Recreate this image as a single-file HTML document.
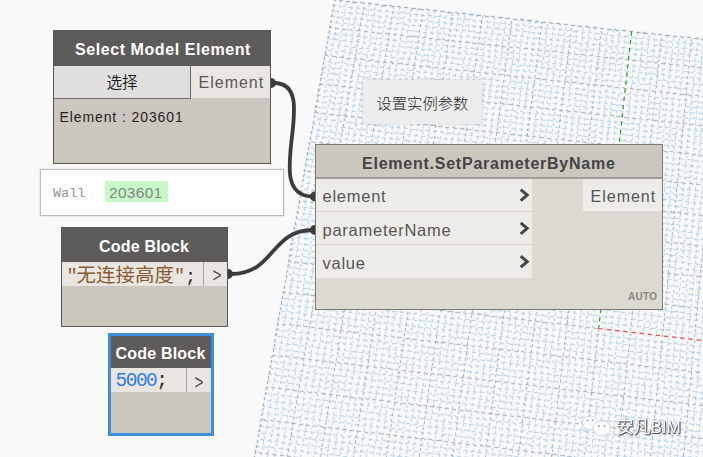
<!DOCTYPE html>
<html lang="zh">
<head>
<meta charset="utf-8">
<title>Dynamo - Element.SetParameterByName</title>
<style>
html,body{margin:0;padding:0;}
html{background:#f9f9f9;}
body{width:703px;height:457px;overflow:hidden;background:#f9f9f9;position:relative;
  font-family:"Liberation Sans","Noto Sans CJK SC",sans-serif;color:#2b2b2b;}
.abs{position:absolute;box-sizing:border-box;}
svg.grid,svg.wires{position:absolute;left:0;top:0;}
.t{position:absolute;white-space:nowrap;line-height:1;}

/* generic dark-header node */
.node{position:absolute;box-sizing:border-box;background:#cbc6be;border:1px solid #595755;}
.hdr{position:absolute;left:0;top:0;right:0;background:#5e5c5a;}
.hdr .t{color:#fff;font-weight:bold;font-size:16px;}
.port{position:absolute;background:#e9e6e1;}
.code{font-family:"Liberation Mono","Noto Sans CJK SC",monospace;}
</style>
</head>
<body>
<svg class="grid" width="703" height="457" viewBox="0 0 703 457" fill="none" stroke-width="1" shape-rendering="crispEdges">
<defs><filter id="soft" x="0" y="0" width="100%" height="100%" color-interpolation-filters="sRGB"><feConvolveMatrix order="3" kernelMatrix="0.02 0.1 0.02 0.1 0.52 0.1 0.02 0.1 0.02" divisor="1" edgeMode="none" preserveAlpha="false"/></filter></defs>
<g filter="url(#soft)">
<g stroke="#afcce2" stroke-dasharray="3.1 2.3"><path d="M340.6 0.7L259.7 464.9" stroke-dashoffset="0.8"/>
<path d="M346.5 1.3L266.5 464.1" stroke-dashoffset="3.5"/>
<path d="M352.4 1.9L272.9 464.9" stroke-dashoffset="0.4"/>
<path d="M358.3 2.6L279.7 464.1" stroke-dashoffset="2.9"/>
<path d="M370.1 3.8L292.9 464.1" stroke-dashoffset="0.3"/>
<path d="M376.0 4.4L299.3 464.9" stroke-dashoffset="2.7"/>
<path d="M381.9 5.1L306.1 464.1" stroke-dashoffset="0.2"/>
<path d="M387.8 5.7L312.5 464.9" stroke-dashoffset="2.3"/>
<path d="M399.6 7.0L325.7 464.9" stroke-dashoffset="0.5"/>
<path d="M405.5 7.6L332.5 464.1" stroke-dashoffset="2.3"/>
<path d="M411.4 8.2L338.9 464.9" stroke-dashoffset="4.5"/>
<path d="M417.3 8.8L345.7 464.1" stroke-dashoffset="0.7"/>
<path d="M429.2 10.1L358.9 464.1" stroke-dashoffset="3.4"/>
<path d="M435.1 10.7L365.4 464.8" stroke-dashoffset="5.1"/>
<path d="M441.0 11.4L372.1 464.1" stroke-dashoffset="3.1"/>
<path d="M446.9 12.0L378.6 464.8" stroke-dashoffset="2.1"/>
<path d="M458.8 13.2L391.8 464.8" stroke-dashoffset="0.3"/>
<path d="M464.7 13.9L398.5 464.0" stroke-dashoffset="4.6"/>
<path d="M470.6 14.5L405.0 464.8" stroke-dashoffset="1.6"/>
<path d="M476.6 15.1L411.7 464.0" stroke-dashoffset="0.8"/>
<path d="M488.5 16.4L424.9 464.0" stroke-dashoffset="1.7"/>
<path d="M494.4 17.0L431.4 464.8" stroke-dashoffset="4.4"/>
<path d="M500.3 17.7L438.2 464.0" stroke-dashoffset="1.0"/>
<path d="M506.3 18.3L444.7 464.8" stroke-dashoffset="3.1"/>
<path d="M518.2 19.6L457.9 464.8" stroke-dashoffset="2.0"/>
<path d="M524.1 20.2L464.6 464.0" stroke-dashoffset="3.0"/>
<path d="M530.1 20.8L471.1 464.8" stroke-dashoffset="0.3"/>
<path d="M536.1 21.5L477.8 464.0" stroke-dashoffset="0.3"/>
<path d="M548.0 22.7L491.0 463.9" stroke-dashoffset="3.7"/>
<path d="M553.9 23.4L497.6 464.7" stroke-dashoffset="2.3"/>
<path d="M559.9 24.0L504.3 463.9" stroke-dashoffset="1.7"/>
<path d="M565.9 24.6L510.8 464.7" stroke-dashoffset="3.2"/>
<path d="M577.8 25.9L524.0 464.7" stroke-dashoffset="1.6"/>
<path d="M583.8 26.5L530.7 463.9" stroke-dashoffset="4.3"/>
<path d="M589.8 27.2L537.3 464.7" stroke-dashoffset="3.8"/>
<path d="M595.7 27.8L544.0 463.9" stroke-dashoffset="1.3"/>
<path d="M607.7 29.1L557.2 463.8" stroke-dashoffset="2.8"/>
<path d="M613.7 29.7L563.7 464.6" stroke-dashoffset="4.7"/>
<path d="M619.7 30.4L570.5 463.8" stroke-dashoffset="3.9"/>
<path d="M625.7 31.0L577.0 464.6" stroke-dashoffset="1.6"/>
<path d="M637.6 32.3L590.2 464.6" stroke-dashoffset="0.6"/>
<path d="M643.6 32.9L596.9 463.8" stroke-dashoffset="2.3"/>
<path d="M649.6 33.6L603.5 464.6" stroke-dashoffset="4.1"/>
<path d="M655.6 34.2L610.2 463.8" stroke-dashoffset="0.8"/>
<path d="M667.6 35.5L623.4 463.7" stroke-dashoffset="0.2"/>
<path d="M673.6 36.1L630.0 464.5" stroke-dashoffset="3.6"/>
<path d="M679.6 36.7L636.7 463.7" stroke-dashoffset="4.1"/>
<path d="M685.7 37.4L643.2 464.5" stroke-dashoffset="3.1"/>
<path d="M697.7 38.7L656.5 464.5" stroke-dashoffset="1.7"/>
<path d="M703.7 39.3L663.2 463.6" stroke-dashoffset="3.8"/>
<path d="M709.7 39.9L669.8 464.4" stroke-dashoffset="3.2"/>
<path d="M711.0 91.7L676.5 463.6" stroke-dashoffset="3.1"/>
<path d="M710.9 228.8L689.7 463.6" stroke-dashoffset="4.5"/>
<path d="M710.9 299.8L696.3 464.4" stroke-dashoffset="5.1"/>
<path d="M711.0 372.4L703.0 463.6" stroke-dashoffset="2.6"/></g>
<g stroke="#afcce2" stroke-dasharray="4.4 2.9"><path d="M256.5 445.9L416.0 465.0" stroke-dashoffset="0.4"/>
<path d="M257.6 439.3L471.1 464.8" stroke-dashoffset="5.1"/>
<path d="M258.8 432.7L527.8 464.9" stroke-dashoffset="4.7"/>
<path d="M259.9 426.1L584.3 464.8" stroke-dashoffset="7.2"/>
<path d="M262.2 413.1L698.5 465.0" stroke-dashoffset="2.1"/>
<path d="M263.4 406.6L710.5 459.6" stroke-dashoffset="2.8"/>
<path d="M264.5 400.1L709.4 452.8" stroke-dashoffset="4.9"/>
<path d="M265.7 393.6L710.0 446.2" stroke-dashoffset="0.2"/>
<path d="M267.9 380.7L709.5 432.8" stroke-dashoffset="1.2"/>
<path d="M269.0 374.3L710.1 426.2" stroke-dashoffset="0.9"/>
<path d="M270.2 367.9L710.7 419.6" stroke-dashoffset="0.4"/>
<path d="M271.3 361.5L709.6 412.9" stroke-dashoffset="5.6"/>
<path d="M273.5 348.7L710.7 399.9" stroke-dashoffset="1.8"/>
<path d="M274.6 342.4L709.7 393.2" stroke-dashoffset="2.9"/>
<path d="M275.7 336.1L710.3 386.7" stroke-dashoffset="6.4"/>
<path d="M276.9 329.8L710.8 380.3" stroke-dashoffset="0.6"/>
<path d="M279.1 317.2L710.3 367.2" stroke-dashoffset="4.0"/>
<path d="M280.2 310.9L710.9 360.8" stroke-dashoffset="6.4"/>
<path d="M281.3 304.7L709.9 354.2" stroke-dashoffset="6.0"/>
<path d="M282.4 298.4L710.4 347.8" stroke-dashoffset="6.3"/>
<path d="M284.5 286.0L709.9 335.0" stroke-dashoffset="3.0"/>
<path d="M285.6 279.8L710.5 328.6" stroke-dashoffset="2.6"/>
<path d="M286.7 273.7L709.5 322.1" stroke-dashoffset="6.5"/>
<path d="M287.8 267.5L710.0 315.8" stroke-dashoffset="7.0"/>
<path d="M289.9 255.2L709.5 303.1" stroke-dashoffset="1.3"/>
<path d="M291.0 249.1L710.1 296.9" stroke-dashoffset="1.7"/>
<path d="M292.1 243.0L710.6 290.6" stroke-dashoffset="1.7"/>
<path d="M293.1 236.9L709.6 284.2" stroke-dashoffset="3.5"/>
<path d="M295.3 224.8L710.7 271.9" stroke-dashoffset="1.9"/>
<path d="M296.3 218.8L709.7 265.5" stroke-dashoffset="0.0"/>
<path d="M297.4 212.8L710.2 259.4" stroke-dashoffset="3.1"/>
<path d="M298.4 206.8L710.8 253.2" stroke-dashoffset="2.7"/>
<path d="M300.5 194.8L710.3 240.8" stroke-dashoffset="7.0"/>
<path d="M301.6 188.9L710.9 234.7" stroke-dashoffset="5.0"/>
<path d="M302.6 182.9L709.8 228.5" stroke-dashoffset="3.8"/>
<path d="M303.7 177.0L710.4 222.4" stroke-dashoffset="4.5"/>
<path d="M305.7 165.2L709.9 210.2" stroke-dashoffset="0.4"/>
<path d="M306.8 159.3L710.5 204.2" stroke-dashoffset="6.6"/>
<path d="M307.8 153.4L709.5 198.0" stroke-dashoffset="5.7"/>
<path d="M308.8 147.5L710.0 192.0" stroke-dashoffset="6.4"/>
<path d="M310.9 135.9L709.5 179.9" stroke-dashoffset="2.9"/>
<path d="M311.9 130.0L710.1 174.0" stroke-dashoffset="2.9"/>
<path d="M312.9 124.2L710.6 168.0" stroke-dashoffset="0.8"/>
<path d="M313.9 118.5L709.6 162.0" stroke-dashoffset="4.6"/>
<path d="M316.0 106.9L710.7 150.2" stroke-dashoffset="0.5"/>
<path d="M317.0 101.2L709.7 144.2" stroke-dashoffset="1.5"/>
<path d="M318.0 95.4L710.2 138.3" stroke-dashoffset="1.2"/>
<path d="M319.0 89.7L710.8 132.5" stroke-dashoffset="2.5"/>
<path d="M321.0 78.3L710.3 120.7" stroke-dashoffset="0.0"/>
<path d="M322.0 72.6L710.8 114.9" stroke-dashoffset="1.1"/>
<path d="M323.0 67.0L709.8 108.9" stroke-dashoffset="0.7"/>
<path d="M323.9 61.3L710.4 103.2" stroke-dashoffset="2.7"/>
<path d="M325.9 50.1L709.9 91.5" stroke-dashoffset="6.4"/>
<path d="M326.9 44.5L710.4 85.8" stroke-dashoffset="4.5"/>
<path d="M327.9 38.9L711.0 80.1" stroke-dashoffset="1.1"/>
<path d="M328.9 33.3L710.0 74.2" stroke-dashoffset="1.8"/>
<path d="M330.8 22.1L709.5 62.7" stroke-dashoffset="2.7"/>
<path d="M331.8 16.6L710.1 57.0" stroke-dashoffset="0.9"/>
<path d="M332.8 11.1L710.6 51.4" stroke-dashoffset="6.2"/>
<path d="M333.7 5.6L709.6 45.6" stroke-dashoffset="7.2"/></g>
<g stroke="#9aa7b0" stroke-dasharray="3.1 2.3"><path d="M364.2 3.2L286.1 464.9" stroke-dashoffset="2.0"/>
<path d="M393.7 6.3L319.3 464.1" stroke-dashoffset="0.4"/>
<path d="M423.2 9.5L352.1 464.9" stroke-dashoffset="1.2"/>
<path d="M452.9 12.6L385.3 464.1" stroke-dashoffset="5.3"/>
<path d="M482.5 15.8L418.2 464.8" stroke-dashoffset="0.6"/>
<path d="M512.2 18.9L451.4 464.0" stroke-dashoffset="3.5"/>
<path d="M542.0 22.1L484.3 464.7" stroke-dashoffset="1.1"/>
<path d="M571.8 25.3L517.5 463.9" stroke-dashoffset="2.4"/>
<path d="M601.7 28.5L550.5 464.6" stroke-dashoffset="3.1"/>
<path d="M598.7 328.5L583.6 464.5" stroke-dashoffset="5.3"/>
<path d="M661.6 34.8L616.7 464.5" stroke-dashoffset="2.6"/>
<path d="M691.7 38.0L650.0 463.7" stroke-dashoffset="4.7"/>
<path d="M710.9 159.4L683.0 464.4" stroke-dashoffset="2.5"/></g>
<g stroke="#9aa7b0" stroke-dasharray="4.4 2.9"><path d="M255.3 452.5L359.1 464.9" stroke-dashoffset="4.8"/>
<path d="M261.1 419.6L640.6 464.8" stroke-dashoffset="6.0"/>
<path d="M266.8 387.1L710.6 439.6" stroke-dashoffset="3.4"/>
<path d="M272.4 355.1L710.2 406.4" stroke-dashoffset="0.9"/>
<path d="M278.0 323.5L709.8 373.6" stroke-dashoffset="3.3"/>
<path d="M283.4 292.2L598.7 328.5" stroke-dashoffset="2.0"/>
<path d="M288.9 261.4L710.6 309.6" stroke-dashoffset="1.1"/>
<path d="M294.2 230.9L710.2 278.0" stroke-dashoffset="4.3"/>
<path d="M299.5 200.8L709.8 246.9" stroke-dashoffset="4.1"/>
<path d="M304.7 171.1L710.9 216.4" stroke-dashoffset="4.9"/>
<path d="M309.9 141.7L710.5 186.0" stroke-dashoffset="5.8"/>
<path d="M314.9 112.7L710.2 156.1" stroke-dashoffset="0.5"/>
<path d="M320.0 84.0L709.8 126.5" stroke-dashoffset="0.4"/>
<path d="M324.9 55.7L710.9 97.4" stroke-dashoffset="0.2"/>
<path d="M329.8 27.7L710.5 68.5" stroke-dashoffset="2.5"/></g>
<g stroke="#8194a3" stroke-dasharray="3.1 2.3"><path d="M334.7 0.0L253.3 464.1" stroke-dashoffset="1.7"/></g>
<g stroke="#8194a3" stroke-dasharray="4.4 2.9"><path d="M334.7 0.0L710.1 40.0" stroke-dashoffset="3.4"/></g>
</g>
<path d="M631.6 31.6L598.7 328.5" stroke="#2f9e3a" stroke-width="1.25" stroke-dasharray="4.4 3.8" shape-rendering="auto"/>
<path d="M598.7 328.5L710.6 341.4" stroke="#f04a4a" stroke-width="1.25" stroke-dasharray="4.4 3.8" shape-rendering="auto"/>
</svg>

<!-- wires -->
<svg class="wires" width="703" height="457" viewBox="0 0 703 457">
  <g fill="none" stroke="#3c3c3c" stroke-width="3.8" stroke-linecap="round">
    <path d="M274 83 C 324 83, 258 196.5, 313 196.5"/>
    <path d="M231 274 C 275 274, 270 230, 313 230"/>
  </g>
  <g fill="#3c3c3c">
    <path d="M271 78 A5 5 0 0 1 271 88 Z"/>
    <path d="M315 191.5 A5 5 0 0 0 315 201.5 Z"/>
    <path d="M228 269 A5 5 0 0 1 228 279 Z"/>
    <path d="M315 225 A5 5 0 0 0 315 235 Z"/>
  </g>
</svg>

<!-- Select Model Element -->
<div class="node" style="left:53px;top:30px;width:218px;height:134px;">
  <div class="hdr" style="height:35px;"><span class="t" style="left:21px;top:10.5px;letter-spacing:0.57px;">Select Model Element</span></div>
  <div class="abs" style="left:0;top:35px;width:137px;height:33px;background:#dfdfdf;border-right:1px solid #706e6c;border-bottom:1px solid #706e6c;">
    <span class="t" style="left:52.5px;top:8.5px;font-size:15.6px;font-weight:350;color:#1c1c1c;">选择</span>
  </div>
  <div class="port" style="left:137px;top:35px;width:79px;height:32px;">
    <span class="t" style="left:7.5px;top:9px;font-size:16px;color:#5a5856;letter-spacing:1px;">Element</span>
  </div>
  <span class="t" style="left:5.5px;top:79px;font-size:14px;color:#1f1f1f;letter-spacing:0.9px;">Element : 203601</span>
</div>

<!-- watch / preview bubble -->
<div class="abs" style="left:40px;top:169px;width:244px;height:47px;background:#fff;border:1px solid #bdbdbd;box-shadow:0 0 2px rgba(0,0,0,0.18);">
  <span class="t code" style="left:12px;top:16.5px;font-size:13.5px;color:#939393;">Wall</span>
  <div class="abs" style="left:64px;top:11px;width:63px;height:21px;background:#c8f7c8;"></div>
  <span class="t" style="left:68px;top:14.5px;font-size:15.5px;color:#858585;letter-spacing:0.3px;">203601</span>
</div>

<!-- Code Block 1 -->
<div class="node" style="left:61px;top:227px;width:167px;height:100px;">
  <div class="hdr" style="height:34px;"><span class="t" style="left:37px;top:10.5px;letter-spacing:0.2px;">Code Block</span></div>
  <div class="port" style="left:0;top:34px;width:141px;height:24px;"></div>
  <div class="port" style="left:142px;top:34px;width:23px;height:24px;"></div>
  <div class="abs" style="left:141px;top:34px;width:1px;height:24px;background:#a9a59e;"></div>
  <span class="t code" style="left:4.5px;top:39.5px;font-size:19.5px;color:#8a5a34;"><span style="font-size:18.5px;letter-spacing:-1.1px;position:relative;top:-1px;">"</span>无连接高度<span style="font-size:18.5px;letter-spacing:-1.1px;position:relative;top:-1px;">"</span><span style="font-size:18.5px;letter-spacing:-1.1px;color:#2b2b2b;padding-left:1px;">;</span></span>
  <span class="t" style="left:150.5px;top:38.5px;font-size:15.5px;color:#4d4d4d;transform:scaleY(1.3);">&gt;</span>
</div>

<!-- Code Block 2 (selected) -->
<div class="abs" style="left:108px;top:333px;width:105.5px;height:102.5px;background:#3d8edb;"></div>
<div class="abs" style="left:111px;top:336px;width:99.5px;height:96.5px;background:#cbc6be;">
  <div class="hdr" style="height:32px;"><span class="t" style="left:4.5px;top:10px;letter-spacing:0.2px;">Code Block</span></div>
  <div class="port" style="left:0;top:32px;width:75px;height:24px;"></div>
  <div class="port" style="left:76px;top:32px;width:23.5px;height:24px;"></div>
  <div class="abs" style="left:75px;top:32px;width:1px;height:24px;background:#a9a59e;"></div>
  <span class="t code" style="left:4.5px;top:36px;font-size:19.5px;letter-spacing:-1.5px;color:#2e7fd6;">5000<span style="color:#2b2b2b;">;</span></span>
  <span class="t" style="left:83.5px;top:37.5px;font-size:15.5px;color:#4d4d4d;transform:scaleY(1.3);">&gt;</span>
</div>

<!-- note -->
<div class="abs" style="left:363px;top:80px;width:119px;height:44px;background:#ececec;box-shadow:0 0 3px rgba(0,0,0,0.18);">
  <span class="t" style="left:13.5px;top:15.5px;font-size:15.3px;font-weight:300;color:#262626;">设置实例参数</span>
</div>

<!-- Element.SetParameterByName -->
<div class="abs" style="left:315px;top:144px;width:348px;height:166px;background:#dcd9d3;border:1px solid #7d7b78;">
  <div class="abs" style="left:0;top:0;width:346px;height:34px;background:#cbc6be;border-bottom:2px solid #a29f9a;">
    <span class="t" style="left:46px;top:10.5px;font-size:16px;font-weight:bold;color:#444;letter-spacing:0.76px;">Element.SetParameterByName</span>
  </div>
  <div class="abs" style="left:0;top:34px;width:216px;height:33px;background:#eeece8;border-bottom:1px solid #d6d3cd;">
    <span class="t" style="left:6.5px;top:9px;font-size:16.5px;color:#555;letter-spacing:0.75px;">element</span>
  </div>
  <div class="abs" style="left:0;top:67px;width:216px;height:33px;background:#eeece8;border-bottom:1px solid #d6d3cd;">
    <span class="t" style="left:6.5px;top:10px;font-size:16.5px;color:#555;letter-spacing:0.75px;">parameterName</span>
  </div>
  <div class="abs" style="left:0;top:100px;width:216px;height:33px;background:#eeece8;">
    <span class="t" style="left:6.5px;top:10px;font-size:16.5px;color:#555;letter-spacing:0.75px;">value</span>
  </div>
  <svg class="abs" style="left:0;top:0;" width="346" height="164" viewBox="0 0 346 164">
    <g fill="none" stroke="#454545" stroke-width="3" stroke-linejoin="miter">
      <path d="M204.7 44.6 L211.2 50.1 L204.7 55.6"/>
      <path d="M204.7 77.8 L211.2 83.3 L204.7 88.8"/>
      <path d="M204.7 111.2 L211.2 116.7 L204.7 122.2"/>
    </g>
  </svg>
  <div class="abs" style="left:267px;top:34px;width:79px;height:32px;background:#eeece8;">
    <span class="t" style="left:7.5px;top:10px;font-size:16px;color:#555;letter-spacing:1px;">Element</span>
  </div>
  <span class="t" style="left:312px;top:147px;font-size:10px;font-weight:bold;color:#8b8781;letter-spacing:0.3px;">AUTO</span>
</div>

<!-- watermark -->
<svg class="abs" style="left:578px;top:412px;" width="36" height="28" viewBox="0 0 36 28">
  <g fill="#fff" stroke="#c3c6c9" stroke-width="0.7">
    <path d="M6.2 15.6 L5.6 19.4 L10 17.2 Z"/>
    <ellipse cx="12.3" cy="11" rx="7.8" ry="6.8"/>
    <path d="M28.2 22 L30.6 25.6 L25 23.6 Z"/>
    <ellipse cx="23.9" cy="16.3" rx="8.8" ry="7.4"/>
  </g>
  <g fill="#8f9599">
    <circle cx="9.4" cy="8.6" r="0.9"/><circle cx="14.6" cy="8.2" r="0.9"/>
    <circle cx="20.8" cy="14" r="0.9"/><circle cx="26.6" cy="14" r="0.9"/>
  </g>
</svg>
<span class="t" style="left:616.5px;top:418.5px;font-size:17px;color:#fff;text-shadow:1px 1px 0 #505050,1px 0 0 #777,0 1px 0 #777,0 0 1px rgba(0,0,0,0.35);">安凡BIM</span>

</body>
</html>
